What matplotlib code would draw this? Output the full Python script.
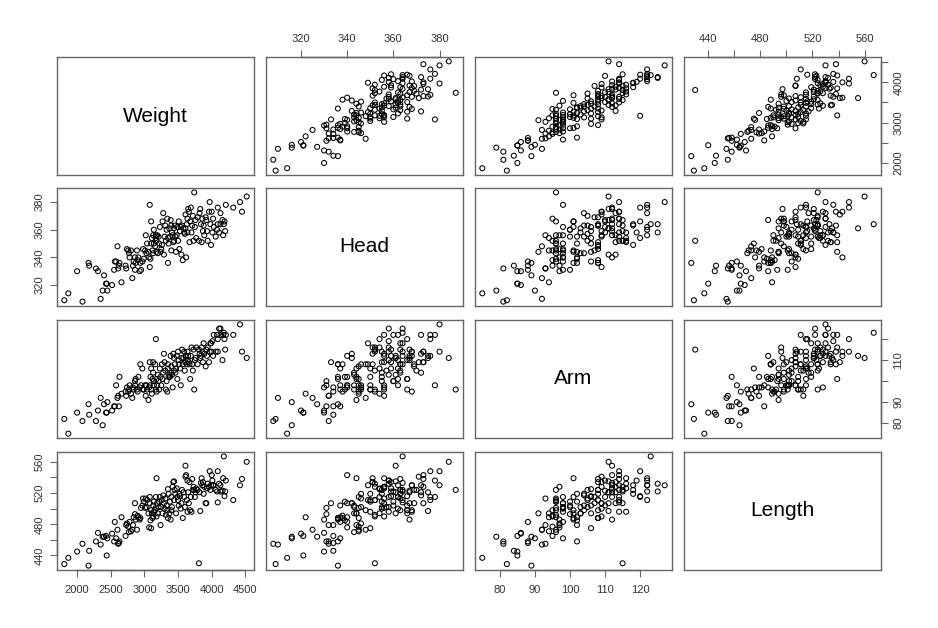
import numpy as np
import matplotlib.pyplot as plt

plt.rcParams['font.family'] = ['Liberation Sans', 'DejaVu Sans']

names = ['Weight', 'Head', 'Arm', 'Length']

weight = [1810, 1870, 2000, 2080, 2170, 2180, 2280, 2310, 2350, 2380,
          2400, 2430, 2440, 2450, 2520, 2550, 2560, 2580, 2600, 2610,
          2620, 2630, 2660, 2720, 2730, 2740, 2760, 2770, 2780, 2800,
          2820, 2830, 2840, 2860, 2860, 2870, 2890, 2900, 2910, 2930,
          2940, 2950, 2970, 2980, 2990, 3010, 3020, 3030, 3040, 3060,
          3070, 3080, 3080, 3090, 3100, 3100, 3110, 3120, 3130, 3130,
          3140, 3140, 3160, 3170, 3170, 3180, 3180, 3190, 3200, 3210,
          3220, 3230, 3240, 3250, 3260, 3270, 3280, 3290, 3300, 3310,
          3320, 3330, 3340, 3350, 3350, 3360, 3370, 3380, 3390, 3400,
          3400, 3410, 3420, 3430, 3440, 3440, 3450, 3460, 3470, 3480,
          3490, 3500, 3510, 3520, 3530, 3540, 3550, 3560, 3570, 3580,
          3590, 3600, 3610, 3610, 3620, 3630, 3640, 3640, 3650, 3660,
          3670, 3680, 3690, 3700, 3710, 3720, 3730, 3740, 3750, 3760,
          3770, 3790, 3810, 3820, 3830, 3840, 3850, 3860, 3870, 3880,
          3890, 3910, 3920, 3930, 3940, 3960, 3970, 3980, 3990, 4000,
          4010, 4020, 4030, 4060, 4080, 4090, 4090, 4110, 4130, 4130,
          4160, 4170, 4180, 4190, 4200, 4210, 4320, 4420, 4450, 4520]

head = [309, 314, 330, 308, 336, 334, 332, 330, 310, 316,
        327, 321, 321, 316, 320, 331, 337, 337, 348, 332,
        334, 336, 322, 334, 332, 346, 345, 343, 340, 345,
        325, 334, 337, 331, 340, 336, 345, 338, 340, 330,
        336, 331, 337, 346, 339, 345, 356, 343, 350, 344,
        340, 333, 378, 339, 350, 366, 354, 345, 343, 356,
        350, 360, 348, 356, 354, 344, 352, 356, 343, 355,
        350, 362, 344, 346, 349, 366, 372, 342, 355, 363,
        352, 360, 368, 354, 336, 350, 361, 355, 367, 345,
        363, 358, 356, 351, 361, 352, 363, 355, 344, 356,
        362, 352, 366, 346, 359, 362, 342, 363, 338, 361,
        358, 357, 371, 361, 340, 364, 368, 358, 375, 373,
        351, 366, 376, 358, 363, 370, 352, 387, 362, 367,
        354, 369, 352, 372, 375, 364, 351, 368, 359, 363,
        356, 369, 367, 359, 352, 373, 380, 364, 349, 373,
        358, 368, 362, 355, 360, 376, 364, 358, 364, 372,
        367, 356, 364, 366, 359, 378, 376, 380, 373, 384]

arm = [82, 75, 85, 81, 89, 84, 81, 86, 92, 79,
       89, 85, 85, 90, 86, 88, 88, 98, 92, 93,
       88, 102, 94, 95, 93, 97, 95, 96, 98, 94,
       92, 97, 96, 100, 98, 101, 96, 95, 102, 97,
       108, 98, 106, 96, 96, 98, 93, 98, 96, 91,
       97, 109, 98, 102, 106, 96, 94, 101, 104, 109,
       98, 100, 108, 96, 120, 101, 95, 98, 103, 100,
       96, 106, 102, 98, 108, 101, 104, 113, 109, 105,
       96, 100, 95, 106, 108, 102, 103, 102, 112, 107,
       104, 103, 97, 113, 111, 105, 108, 104, 106, 112,
       101, 114, 110, 108, 106, 98, 111, 115, 108, 111,
       114, 105, 109, 112, 112, 108, 114, 110, 112, 109,
       108, 101, 112, 116, 108, 105, 115, 96, 110, 111,
       116, 108, 115, 113, 111, 112, 116, 114, 109, 118,
       113, 107, 115, 112, 116, 109, 114, 118, 118, 114,
       119, 112, 122, 114, 122, 120, 114, 125, 125, 122,
       110, 122, 123, 120, 115, 122, 122, 127, 114, 111]

length = [429, 437, 445, 455, 427, 446, 458, 469, 454, 464,
          464, 465, 440, 462, 468, 458, 483, 462, 473, 455,
          456, 458, 489, 465, 479, 481, 477, 470, 483, 471,
          473, 479, 489, 493, 507, 486, 473, 491, 489, 486,
          488, 501, 504, 513, 509, 501, 513, 502, 511, 494,
          476, 507, 515, 485, 475, 498, 494, 488, 504, 490,
          496, 509, 498, 501, 515, 539, 490, 507, 494, 502,
          509, 515, 479, 502, 511, 494, 517, 507, 500, 513,
          492, 504, 498, 525, 488, 519, 494, 509, 486, 515,
          498, 502, 528, 534, 535, 511, 524, 519, 494, 526,
          515, 511, 504, 519, 516, 500, 507, 524, 488, 521,
          515, 502, 541, 555, 543, 511, 496, 536, 521, 507,
          534, 498, 515, 496, 538, 524, 528, 524, 515, 521,
          526, 524, 430, 521, 497, 533, 539, 530, 534, 519,
          528, 507, 507, 526, 532, 528, 548, 524, 530, 543,
          536, 530, 530, 524, 522, 548, 508, 532, 522, 530,
          523, 539, 567, 516, 522, 536, 511, 530, 538, 560]

data = [weight, head, arm, length]

# axis ticks and which of them get a label (R drops some on the side axes)
x_ticks = [[2000, 2500, 3000, 3500, 4000, 4500],
           [320, 340, 360, 380],
           [80, 90, 100, 110, 120],
           [440, 460, 480, 500, 520, 540, 560]]
x_labels = [['2000', '2500', '3000', '3500', '4000', '4500'],
            ['320', '340', '360', '380'],
            ['80', '90', '100', '110', '120'],
            ['440', '', '480', '', '520', '', '560']]
y_ticks = x_ticks
y_labels = [['2000', '', '3000', '', '4000', ''],
            ['320', '340', '360', '380'],
            ['80', '90', '', '110', ''],
            ['440', '', '480', '', '520', '', '560']]

def lim(v):
    lo, hi = min(v), max(v)
    d = (hi - lo) * 0.04
    return lo - d, hi + d

W, H = 938, 628
lefts = [57, 266, 475, 684]
tops = [57, 188, 320, 452]
pw, ph = 197, 118
box = '#666666'
txt = '#333333'

fig = plt.figure(figsize=(9.38, 6.28), dpi=100)

for i in range(4):
    for j in range(4):
        ax = fig.add_axes([lefts[j] / W, 1 - (tops[i] + ph) / H, pw / W, ph / H])
        ax.set_xlim(lim(data[j]))
        ax.set_ylim(lim(data[i]))
        for s in ax.spines.values():
            s.set_color(box)
            s.set_linewidth(1.0)
        ax.set_xticks([])
        ax.set_yticks([])
        if i == j:
            ax.text(0.5, 0.5, names[i], transform=ax.transAxes, ha='center',
                    va='center', fontsize=15, color='black')
        else:
            ax.scatter(data[j], data[i], s=13, facecolors='none',
                       edgecolors='black', linewidths=0.75)

        if (i == 0 and j % 2 == 1) or (i == 3 and j % 2 == 0):
            t = x_ticks[j]
            ax.set_xticks(t)
            ax.set_xticklabels(x_labels[j])
            yy = 1 if i == 0 else 0
            if i == 0:
                ax.xaxis.set_ticks_position('top')
            ax.tick_params(axis='x', direction='out', length=5, width=0.8,
                           color=box, labelsize=8, labelcolor=txt,
                           pad=4 if i == 0 else 6)
            ax.plot([t[0], t[-1]], [yy, yy], transform=ax.get_xaxis_transform(),
                    color=box, lw=1.0, clip_on=False)
        if (j == 0 and i % 2 == 1) or (j == 3 and i % 2 == 0):
            t = y_ticks[i]
            ax.set_yticks(t)
            ax.set_yticklabels(y_labels[i], rotation=90, va='center')
            xx = 0 if j == 0 else 1
            if j == 3:
                ax.yaxis.set_ticks_position('right')
            ax.tick_params(axis='y', direction='out', length=5, width=0.8,
                           color=box, labelsize=8, labelcolor=txt, pad=4)
            ax.plot([xx, xx], [t[0], t[-1]], transform=ax.get_yaxis_transform(),
                    color=box, lw=1.0, clip_on=False)

fig.savefig('out.png', dpi=100)
